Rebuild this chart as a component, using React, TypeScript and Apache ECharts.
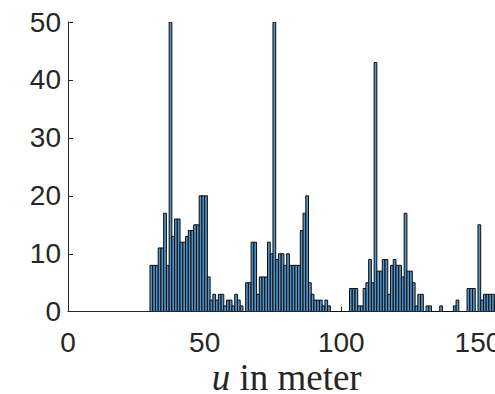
import React, { useEffect, useRef } from "react";
import * as echarts from "echarts";

// Histogram: bin left edges start at FIRST_BIN, each bin is BIN_WIDTH wide
const FIRST_BIN = 30;
const BIN_WIDTH = 1;
// counts for bins 30,31,...,157
const counts30to59 = [8, 8, 8, 11, 11, 17, 8, 50, 13, 16, 16, 12, 12, 13, 14, 14, 15, 15, 20, 20, 20, 6, 2, 3, 2, 3, 3, 1, 2, 2];
const counts60to89 = [1, 3, 2, 1, 0, 5, 5, 12, 12, 3, 6, 6, 6, 12, 10, 50, 9, 10, 10, 8, 10, 8, 8, 8, 8, 14, 17, 20, 5, 3];
const counts90to119 = [2, 2, 2, 1, 2, 1, 0, 0, 0, 0, 0, 0, 0, 4, 4, 4, 1, 1, 4, 5, 9, 5, 43, 7, 7, 9, 9, 3, 8, 9];
const counts120to157 = [8, 8, 6, 17, 7, 7, 5, 1, 3, 3, 0, 1, 1, 0, 0, 0, 1, 0, 0, 0, 0, 1, 2, 0, 0, 0, 4, 4, 4, 0, 15, 2, 3, 3, 3, 3, 2, 1];
const counts = [...counts30to59, ...counts60to89, ...counts90to119, ...counts120to157];

const xTicks = [0, 50, 100, 150];
const yTicks = [0, 10, 20, 30, 40, 50];

const AXIS_COLOR = "#262626";

export default function App() {
  const ref = useRef<HTMLDivElement>(null);
  useEffect(() => {
    const chart = echarts.init(ref.current!, null, { renderer: "svg" });
    const data = counts.map((c, i) => [FIRST_BIN + i * BIN_WIDTH, c]);
    chart.setOption({
      animation: false,
      backgroundColor: "#ffffff",
      grid: { left: 68, top: 22, width: 437.3, height: 289.7, outerBoundsMode: "none", containLabel: false },
      xAxis: {
        type: "value",
        min: xTicks[0],
        max: 160,
        interval: 50,
        name: "{i|u} in meter",
        nameLocation: "middle",
        nameGap: 49,
        nameMoveOverlap: false,
        nameTextStyle: {
          fontFamily: "Liberation Serif",
          fontSize: 37,
          lineHeight: 33,
          color: AXIS_COLOR,
          rich: {
            i: { fontFamily: "Liberation Serif", fontStyle: "italic", fontSize: 37, lineHeight: 33, color: AXIS_COLOR },
          },
        },
        splitLine: { show: false },
        axisLine: { show: true, onZero: false, lineStyle: { color: AXIS_COLOR, width: 1 } },
        axisTick: { show: true, inside: true, length: 5, lineStyle: { color: AXIS_COLOR } },
        axisLabel: {
          showMaxLabel: false,
          margin: 17,
          fontFamily: "Liberation Sans",
          fontSize: 28,
          color: AXIS_COLOR,
          formatter: (v: number) => (xTicks.includes(v) ? String(v) : ""),
        },
      },
      yAxis: {
        type: "value",
        min: yTicks[0],
        max: yTicks[yTicks.length - 1],
        interval: 10,
        splitLine: { show: false },
        axisLine: { show: true, lineStyle: { color: AXIS_COLOR, width: 1 } },
        axisTick: { show: true, inside: true, length: 5, lineStyle: { color: AXIS_COLOR } },
        axisLabel: {
          margin: 7,
          fontFamily: "Liberation Sans",
          fontSize: 28,
          color: AXIS_COLOR,
          padding: [6, 0, 0, 0],
        },
      },
      series: [
        {
          type: "custom",
          clip: true,
          encode: { x: 0, y: 1 },
          data,
          renderItem: (params: any, api: any) => {
            const x0 = api.value(0);
            const h = api.value(1);
            const p0 = api.coord([x0, 0]);
            const p1 = api.coord([x0 + BIN_WIDTH, h]);
            return {
              type: "rect",
              shape: { x: p0[0], y: p1[1], width: p1[0] - p0[0], height: p0[1] - p1[1] },
              style: { fill: "#4f93c9", stroke: "#0d0d0d", lineWidth: 1 },
            };
          },
        },
      ],
    });
    return () => chart.dispose();
  }, []);
  return (
    <div style={{ position: "fixed", left: 0, top: 0, width: 495, height: 394, overflow: "hidden", background: "#fff" }}>
      <div ref={ref} style={{ width: 560, height: 394 }} />
    </div>
  );
}
